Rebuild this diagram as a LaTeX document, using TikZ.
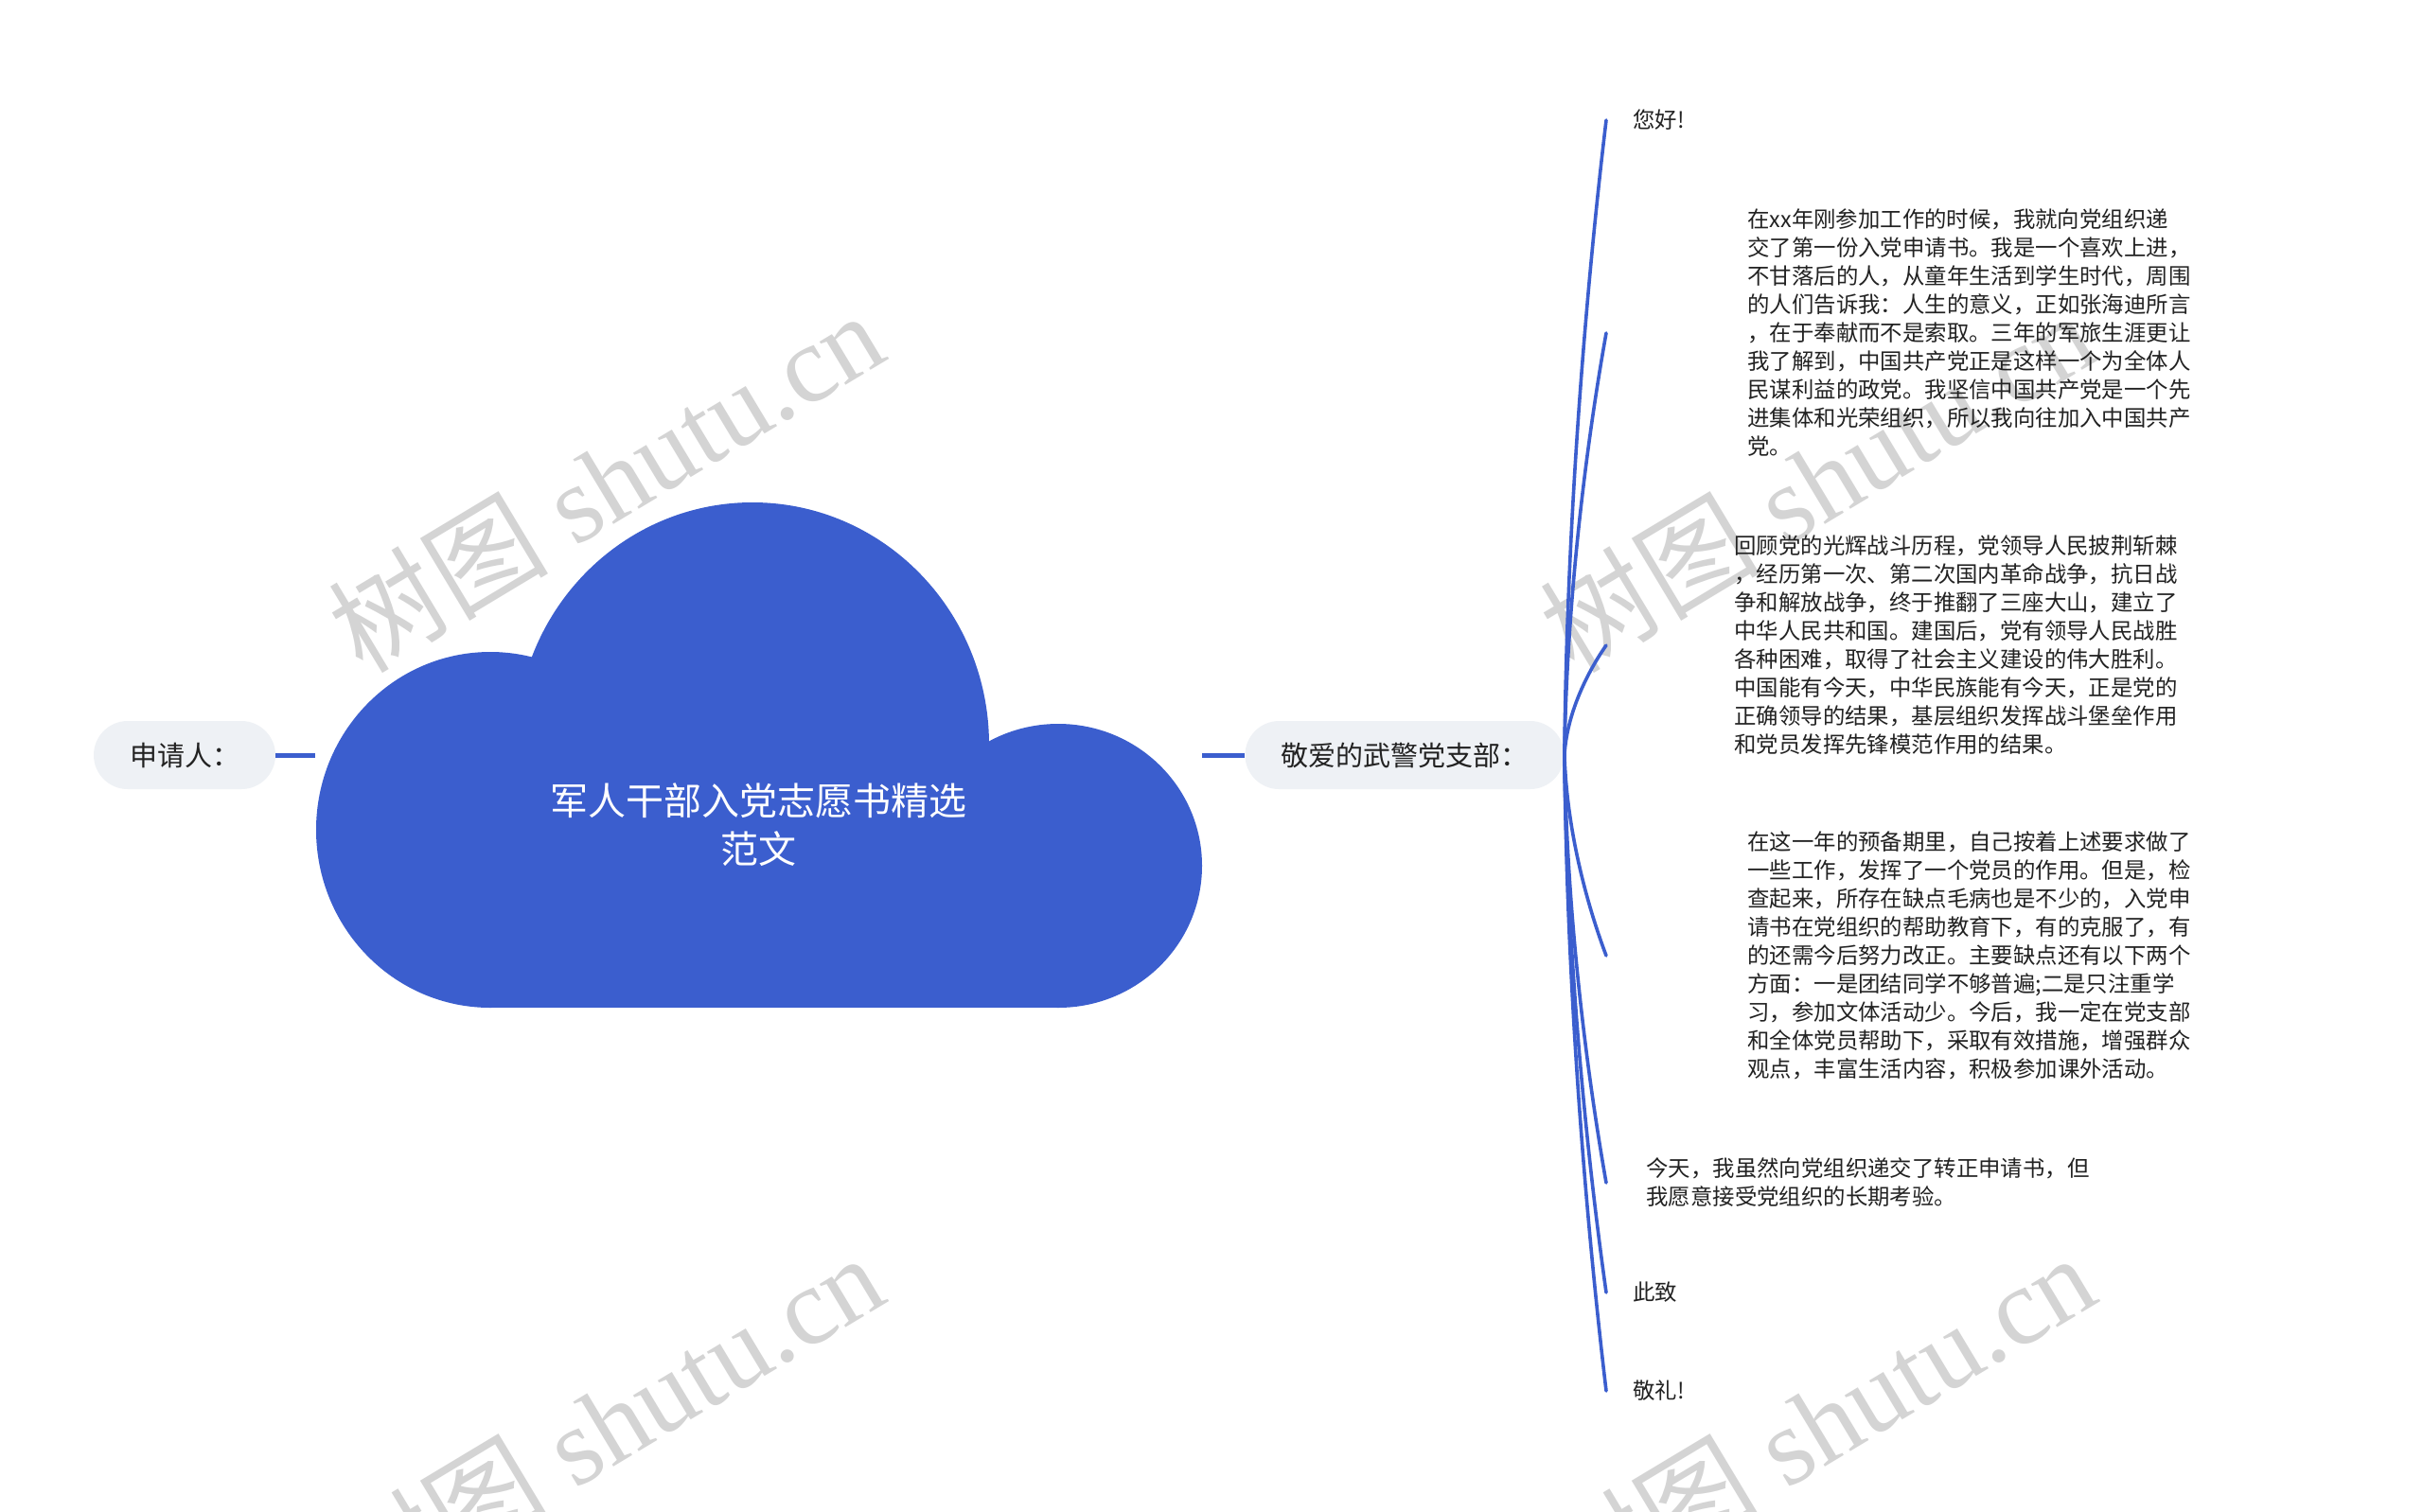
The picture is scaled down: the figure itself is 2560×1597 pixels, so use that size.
\documentclass[tikz,border=0pt]{standalone}
\usepackage{fontspec}
\setmainfont{Noto Sans CJK SC}
\newfontfamily\wmcjk{Noto Sans CJK SC}
\newfontfamily\wmlat{Liberation Serif}
\definecolor{cloudblue}{RGB}{59,94,206}
\definecolor{pillgray}{RGB}{238,241,245}
\definecolor{txtc}{RGB}{34,34,34}
\definecolor{wmgray}{RGB}{212,212,212}
\begin{document}
\begin{tikzpicture}[x=0.5pt,y=-0.5pt,
  pill/.style={rectangle, rounded corners=18pt, fill=pillgray, minimum height=36pt, inner xsep=19pt, inner ysep=0pt, font=\fontsize{14.5pt}{17pt}\selectfont, text=txtc},
  leaf/.style={anchor=west, inner ysep=0pt, align=left, font=\fontsize{11.7pt}{15pt}\selectfont, text=txtc},
  conn/.style={draw=cloudblue, line width=1.8pt, line cap=round},
  stub/.style={draw=cloudblue, line width=2.5pt},
  wm/.style={text=wmgray, rotate=31, font=\fontsize{58pt}{58pt}\selectfont, inner sep=0pt}
]
\fill[white] (0,0) rectangle (2560,1597);
\useasboundingbox (0,0) rectangle (2560,1597);

% watermarks
\node[wm] (wm1) at (640,508) {\wmcjk 树图\wmlat{} shutu.cn};
\node[wm] (wm2) at (1920,508) {\wmcjk 树图\wmlat{} shutu.cn};
\node[wm] (wm3) at (640,1504) {\wmcjk 树图\wmlat{} shutu.cn};
\node[wm] (wm4) at (1920,1504) {\wmcjk 树图\wmlat{} shutu.cn};

% cloud
\fill[cloudblue] (518,877) ellipse [x radius=184, y radius=188];
\fill[cloudblue] (795,787) ellipse [x radius=250, y radius=256];
\fill[cloudblue] (1118,915) ellipse [x radius=152, y radius=150];
\fill[cloudblue] (518,800) rectangle (1118,1065);
\node[inner sep=0pt, minimum width=468.5pt, minimum height=267pt] (root) at (801.5,798) {};
\node[font=\fontsize{20pt}{25.5pt}\selectfont, text=white, align=center] (title) at (801,872) {军人干部入党志愿书精选\\范文};

% pills
\node[pill] (p1) at (195,798) {申请人：};
\node[pill] (p2) at (1484,798) {敬爱的武警党支部：};
\draw[stub] (p1.east) -- (root.west);
\draw[stub] (root.east) -- (p2.west);

% leaves
\node[leaf, inner xsep=14pt] (c1) at (1697,127) {您好!};
\node[leaf, inner xsep=74.5pt] (c2) at (1697,352) {在xx年刚参加工作的时候，我就向党组织递\\交了第一份入党申请书。我是一个喜欢上进，\\不甘落后的人，从童年生活到学生时代，周围\\的人们告诉我：人生的意义，正如张海迪所言\\，在于奉献而不是索取。三年的军旅生涯更让\\我了解到，中国共产党正是这样一个为全体人\\民谋利益的政党。我坚信中国共产党是一个先\\进集体和光荣组织，所以我向往加入中国共产\\党。};
\node[leaf, inner xsep=67.5pt] (c3) at (1697,682) {回顾党的光辉战斗历程，党领导人民披荆斩棘\\，经历第一次、第二次国内革命战争，抗日战\\争和解放战争，终于推翻了三座大山，建立了\\中华人民共和国。建国后，党有领导人民战胜\\各种困难，取得了社会主义建设的伟大胜利。\\中国能有今天，中华民族能有今天，正是党的\\正确领导的结果，基层组织发挥战斗堡垒作用\\和党员发挥先锋模范作用的结果。};
\node[leaf, inner xsep=74.5pt] (c4) at (1697,1010) {在这一年的预备期里，自己按着上述要求做了\\一些工作，发挥了一个党员的作用。但是，检\\查起来，所存在缺点毛病也是不少的，入党申\\请书在党组织的帮助教育下，有的克服了，有\\的还需今后努力改正。主要缺点还有以下两个\\方面：一是团结同学不够普遍;二是只注重学\\习，参加文体活动少。今后，我一定在党支部\\和全体党员帮助下，采取有效措施，增强群众\\观点，丰富生活内容，积极参加课外活动。};
\node[leaf, inner xsep=21pt] (c5) at (1697,1250) {今天，我虽然向党组织递交了转正申请书，但\\我愿意接受党组织的长期考验。};
\node[leaf, inner xsep=14pt] (c6) at (1697,1366) {此致};
\node[leaf, inner xsep=14pt] (c7) at (1697,1470) {敬礼!};

% connectors
\draw[conn] (p2.east) .. controls +(3,-302) and +(-12,100) .. (c1.west);
\draw[conn] (p2.east) .. controls +(3,-200) and +(-12,67) .. (c2.west);
\draw[conn] (p2.east) .. controls +(3,-52) and +(-12,17) .. (c3.west);
\draw[conn] (p2.east) .. controls +(3,95) and +(-12,-32) .. (c4.west);
\draw[conn] (p2.east) .. controls +(3,203) and +(-12,-68) .. (c5.west);
\draw[conn] (p2.east) .. controls +(3,256) and +(-12,-85) .. (c6.west);
\draw[conn] (p2.east) .. controls +(3,302) and +(-12,-101) .. (c7.west);
\end{tikzpicture}
\end{document}
